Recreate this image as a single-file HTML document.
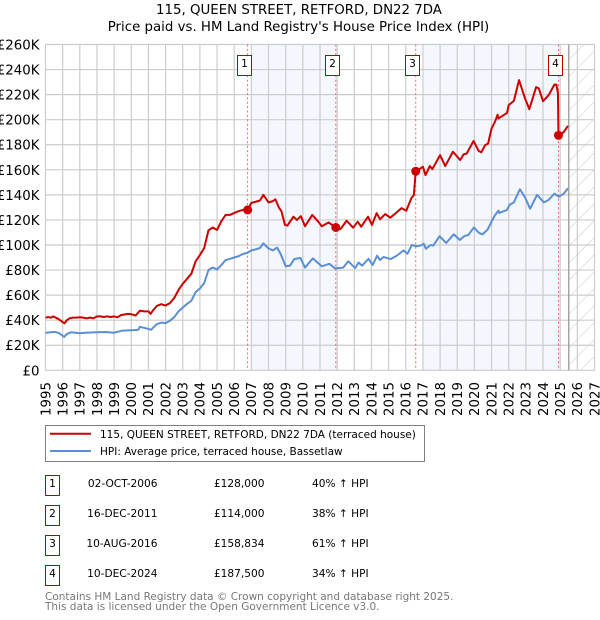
<!DOCTYPE html>
<html lang="en">
<head>
<meta charset="utf-8">
<title>115, QUEEN STREET, RETFORD, DN22 7DA</title>
<style>
html,body{margin:0;padding:0;background:#fff;width:600px;height:620px;overflow:hidden}
svg{display:block;font-family:"DejaVu Sans","Liberation Sans",sans-serif}
text{fill:#000}
</style>
</head>
<body>
<svg id="chart" width="600" height="620" viewBox="0 0 600 620" xmlns="http://www.w3.org/2000/svg">
  <defs>
    <pattern id="hatch" patternUnits="userSpaceOnUse" width="12" height="12" patternTransform="rotate(45)">
      <rect width="12" height="12" fill="#fff"/>
      <line x1="0" y1="0" x2="0" y2="12" stroke="#cfcfcf" stroke-width="1.2"/>
    </pattern>
  </defs>
  <text x="299" y="14" text-anchor="middle" font-size="13.35">115, QUEEN STREET, RETFORD, DN22 7DA</text>
  <text x="298.5" y="31" text-anchor="middle" font-size="13.35">Price paid vs. HM Land Registry's House Price Index (HPI)</text>
  <g id="plot"></g>

  <g>
    <rect x="45.5" y="425.5" width="379" height="36" fill="#fff" stroke="#808080" stroke-width="1"/>
    <line x1="50" y1="433.7" x2="91" y2="433.7" stroke="#cc0000" stroke-width="2"/>
    <text x="100" y="438" font-size="10.5">115, QUEEN STREET, RETFORD, DN22 7DA (terraced house)</text>
    <line x1="50" y1="451" x2="91" y2="451" stroke="#5b8fd4" stroke-width="2"/>
    <text x="100" y="455" font-size="10.5">HPI: Average price, terraced house, Bassetlaw</text>
  </g>

  <g font-size="10.6">
    <g>
      <rect x="45.5" y="475.5" width="14" height="20" fill="#fff" stroke="#b00000"/>
      <text x="52.5" y="487" text-anchor="middle">1</text>
      <text x="157.5" y="487" text-anchor="end">02-OCT-2006</text>
      <text x="264.5" y="487" text-anchor="end">£128,000</text>
      <text x="312" y="487">40% ↑ HPI</text>
    </g>
    <g>
      <rect x="45.5" y="505.5" width="14" height="20" fill="#fff" stroke="#b00000"/>
      <text x="52.5" y="517" text-anchor="middle">2</text>
      <text x="157.5" y="517" text-anchor="end">16-DEC-2011</text>
      <text x="264.5" y="517" text-anchor="end">£114,000</text>
      <text x="312" y="517">38% ↑ HPI</text>
    </g>
    <g>
      <rect x="45.5" y="535.5" width="14" height="20" fill="#fff" stroke="#b00000"/>
      <text x="52.5" y="547" text-anchor="middle">3</text>
      <text x="157.5" y="547" text-anchor="end">10-AUG-2016</text>
      <text x="264.5" y="547" text-anchor="end">£158,834</text>
      <text x="312" y="547">61% ↑ HPI</text>
    </g>
    <g>
      <rect x="45.5" y="565.5" width="14" height="20" fill="#fff" stroke="#b00000"/>
      <text x="52.5" y="577" text-anchor="middle">4</text>
      <text x="157.5" y="577" text-anchor="end">10-DEC-2024</text>
      <text x="264.5" y="577" text-anchor="end">£187,500</text>
      <text x="312" y="577">34% ↑ HPI</text>
    </g>
  </g>

  <text x="45" y="600" font-size="10.5" style="fill:#777">Contains HM Land Registry data © Crown copyright and database right 2025.</text>
  <text x="45" y="610" font-size="10.5" style="fill:#777">This data is licensed under the Open Government Licence v3.0.</text>
</svg>
<script>
const yearTicks = [1995,1996,1997,1998,1999,2000,2001,2002,2003,2004,2005,2006,2007,2008,2009,2010,2011,2012,2013,2014,2015,2016,2017,2018,2019,2020,2021,2022,2023,2024,2025,2026,2027];
const priceTicks = [0,20,40,60,80,100,120,140,160,180,200,220,240,260];
const priceTickLabels = ['£0','£20K','£40K','£60K','£80K','£100K','£120K','£140K','£160K','£180K','£200K','£220K','£240K','£260K'];
const bandStarts = [2007,2017];
const bandEnds = [2012,2025];
const forecastStart = 2025.5;
const saleDates = [2006.78,2011.92,2016.58,2024.9];
const salePrices = [128,114,158.834,187.5];
const saleLabels = ['1','2','3','4'];
const priceDates = [1995,1995.15,1995.3,1995.45,1995.6,1995.75,1995.9,1996.1,1996.25,1996.4,1996.6,1996.8,1997,1997.2,1997.4,1997.6,1997.8,1998,1998.2,1998.4,1998.6,1998.8,1999,1999.2,1999.4,1999.6,1999.8,2000,2000.25,2000.5,2000.75,2001,2001.12,2001.25,2001.5,2001.75,2002,2002.25,2002.5,2002.75,2003,2003.25,2003.5,2003.75,2004,2004.25,2004.5,2004.75,2005,2005.25,2005.5,2005.75,2006,2006.25,2006.5,2006.78,2007,2007.25,2007.5,2007.7,2008,2008.25,2008.4,2008.6,2008.75,2008.96,2009.1,2009.45,2009.65,2009.88,2010.13,2010.55,2010.9,2011.1,2011.5,2011.92,2012.2,2012.55,2012.93,2013.2,2013.4,2013.8,2014.03,2014.3,2014.5,2014.8,2015.1,2015.45,2015.75,2016.03,2016.33,2016.47,2016.58,2017,2017.15,2017.4,2017.55,2018,2018.3,2018.75,2019.17,2019.37,2019.55,2019.95,2020.25,2020.4,2020.63,2020.8,2021,2021.2,2021.35,2021.4,2021.9,2022,2022.3,2022.6,2022.95,2023.2,2023.6,2023.75,2024,2024.33,2024.66,2024.78,2024.87,2024.9,2025.2,2025.45];
const priceValues = [42,42.5,42,43,42,41,39.5,37.5,40,41.5,42,42,42.3,42,41.5,42,41.5,43,43,42.5,43,42.5,43,42.3,44,44.5,45,44.8,43.7,47.5,47,47,45,47.5,51.5,52.8,51.7,53.6,57.6,64,69,73,77,87,92,97.6,111.7,114,112,119,124,124,125.6,127,128,128,133.6,134.5,135.5,140,134,135,136.5,130,127,116,115.5,122.6,120,123,115,124,118.6,115,118,114,112.7,119.4,113.8,118.6,114.6,122.6,116,125.4,120.5,124.7,121.8,125.8,129.4,127.3,137.5,139.8,158.8,162.4,155.8,163,160.6,171.7,163,174.4,167.8,172.3,173,183,175,174,179.7,181,193,198.3,204,201,205.4,211.6,215,231.6,217,208.4,226,225,214.8,219.6,228,228,221,187.5,190,195];
const hpiDates = [1995,1995.25,1995.5,1995.75,1996,1996.1,1996.25,1996.5,1997,1997.3,1998,1998.5,1999,1999.5,2000,2000.4,2000.5,2001,2001.15,2001.5,2001.75,2002,2002.25,2002.5,2002.75,2003,2003.25,2003.5,2003.75,2004,2004.25,2004.5,2004.75,2005,2005.25,2005.5,2005.75,2006,2006.25,2006.5,2006.75,2007,2007.25,2007.5,2007.7,2008,2008.25,2008.5,2008.7,2009,2009.25,2009.5,2009.86,2010.13,2010.58,2011.1,2011.55,2011.88,2012.35,2012.65,2013.05,2013.25,2013.45,2013.83,2014.07,2014.33,2014.5,2014.7,2015.13,2015.48,2015.87,2016.1,2016.35,2016.6,2016.85,2017.05,2017.17,2017.45,2017.6,2017.97,2018.35,2018.8,2019.15,2019.4,2019.65,2019.97,2020.27,2020.47,2020.77,2021.05,2021.2,2021.4,2021.45,2021.9,2022.05,2022.3,2022.65,2022.95,2023.25,2023.65,2024.05,2024.33,2024.66,2024.92,2025.2,2025.45];
const hpiValues = [30,30.3,30.7,30,27.5,26.7,29,30.4,29.6,30,30.4,30.6,30,31.7,32,32.3,34.7,33,32.3,37,38,37.6,39.5,42.4,47,50,53,55.5,62.4,65.3,69.6,80,82,80.5,84,88,89,90,91,92.8,93.6,95.7,96.5,97.6,101.3,97.3,95.7,97.9,93,83,83.5,88.8,89.6,82,89.3,83,85,81.3,81.9,87,81.6,86,83.5,89,84,91.5,88,90.4,88.8,91.5,95.7,93,100,99,99.5,101,97,100,99.5,107,101.6,108.5,104,107,108,114,109.6,108.5,112.3,120,123.7,127.5,125.6,128,132,134,144.5,138,129,140,134,136,141,138.6,140.8,145.3];

const plotLeft = 45.5, plotRight = 594.5, plotTop = 44.5, plotBottom = 370.3;
const NS = 'http://www.w3.org/2000/svg';
const plot = document.getElementById('plot');
const xMin = yearTicks[0], xMax = yearTicks[yearTicks.length - 1];
const yMin = priceTicks[0], yMax = priceTicks[priceTicks.length - 1];
function xScale(d) { return plotLeft + (d - xMin) / (xMax - xMin) * (plotRight - plotLeft); }
function yScale(v) { return plotBottom - (v - yMin) / (yMax - yMin) * (plotBottom - plotTop); }
function make(tag, props, text) {
  const el = document.createElementNS(NS, tag);
  for (const k in props) el.setAttribute(k, props[k]);
  if (text !== undefined) el.textContent = text;
  plot.appendChild(el);
  return el;
}
function pathFrom(dates, values) {
  return dates.map(function (d, i) {
    return (i ? 'L' : 'M') + xScale(d).toFixed(2) + ' ' + yScale(values[i]).toFixed(2);
  }).join('');
}

bandStarts.forEach(function (s, i) {
  const band = make('rect', { x: xScale(s), y: plotTop, width: xScale(bandEnds[i]) - xScale(s), height: plotBottom - plotTop, fill: '#f4f7fe' });
  
  
});

const hatch = make('rect', { x: xScale(forecastStart), y: plotTop, width: plotRight - xScale(forecastStart), height: plotBottom - plotTop, fill: 'url(#hatch)' });



yearTicks.forEach(function (y) {
  const g = make('line', { x1: xScale(y), x2: xScale(y), y1: plotTop, y2: plotBottom, stroke: '#cccccc', 'stroke-width': 1.2 });
  
  
  const px = xScale(y) + 4.8, py = 382;
  const t = make('text', { x: px, y: py, 'font-size': 13.35, 'text-anchor': 'end', transform: 'rotate(-90 ' + px + ' ' + py + ')' }, String(y));
  
  
});
priceTicks.forEach(function (v, i) {
  const g = make('line', { x1: plotLeft, x2: plotRight, y1: yScale(v), y2: yScale(v), stroke: '#cccccc', 'stroke-width': 1.2 });
  
  
  const t = make('text', { x: 39.5, y: yScale(v) + 5, 'font-size': 13.35, 'text-anchor': 'end' }, priceTickLabels[i]);
  
  
});

const forecastLine = make('line', { x1: xScale(forecastStart), x2: xScale(forecastStart), y1: plotTop, y2: plotBottom, stroke: '#999999', 'stroke-width': 1.3 });



saleDates.forEach(function (d) {
  const l = make('line', { x1: xScale(d), x2: xScale(d), y1: plotTop, y2: plotBottom, stroke: '#ee6677', 'stroke-width': 1, 'stroke-dasharray': '2 2.4' });
  
  
});

const hpiLine = make('path', { d: pathFrom(hpiDates, hpiValues), fill: 'none', stroke: '#5b8fd4', 'stroke-width': 2, 'stroke-linejoin': 'round' });



const priceLine = make('path', { d: pathFrom(priceDates, priceValues), fill: 'none', stroke: '#cc0000', 'stroke-width': 2, 'stroke-linejoin': 'round' });



saleDates.forEach(function (d, i) {
  const dot = make('circle', { cx: xScale(d), cy: yScale(salePrices[i]), r: 4.5, fill: '#cc0000' });
  
  
  const boxLeft = Math.floor(xScale(d) - 10) + 0.5;
  const box = make('rect', { x: boxLeft, y: 55.5, width: 14, height: 20, fill: '#fff', stroke: '#b00000', 'stroke-width': 1 });
  
  
  const t = make('text', { x: boxLeft + 7, y: 67, 'font-size': 10.6, 'text-anchor': 'middle' }, saleLabels[i]);
  
  
});
</script>
</body>
</html>
